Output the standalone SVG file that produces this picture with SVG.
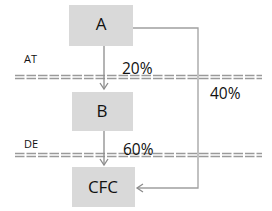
<svg xmlns="http://www.w3.org/2000/svg" width="272" height="211" viewBox="0 0 272 211">
<defs>
<marker id="ah" markerWidth="10" markerHeight="10" refX="7" refY="5" orient="auto" markerUnits="userSpaceOnUse">
<path d="M1,1 L7,5 L1,9" fill="none" stroke="#8c8c8c" stroke-width="1.3"/>
</marker>
</defs>
<style>
.box{fill:#d9d9d9}
.lbl{font-family:"Open Sans","Liberation Sans",sans-serif;fill:#111;text-anchor:middle}
.big{font-size:17px}
.pct{font-size:15.5px;font-family:"Open Sans","Liberation Sans",sans-serif;fill:#111}
.sm{font-size:11px;font-family:"Open Sans","Liberation Sans",sans-serif;fill:#111}
.dash{stroke:#9a9a9a;stroke-width:1.3;stroke-dasharray:9.5 2;fill:none}
.conn{stroke:#8c8c8c;stroke-width:1.3;fill:none}
</style>
<rect width="272" height="211" fill="#fff"/>
<g id="lines">
<line class="dash" x1="15" y1="75.5" x2="262" y2="75.5"/>
<line class="dash" x1="15" y1="78.5" x2="262" y2="78.5"/>
<line class="dash" x1="15" y1="153.5" x2="262" y2="153.5"/>
<line class="dash" x1="15" y1="156.5" x2="262" y2="156.5"/>
<text class="sm" x="24" y="63">AT</text>
<text class="sm" x="24" y="148">DE</text>
</g>
<g id="connectors">
<line class="conn" x1="104" y1="46" x2="104" y2="89" marker-end="url(#ah)"/>
<line class="conn" x1="104" y1="131" x2="104" y2="165" marker-end="url(#ah)"/>
<polyline points="133,28 198,28 198,188 137,188" fill="none" stroke="#a0a0a0" stroke-width="1.3" marker-end="url(#ah)"/>
<text class="pct" x="122" y="74">20%</text>
<text class="pct" x="210" y="99">40%</text>
<text class="pct" x="123" y="155">60%</text>
</g>
<g id="nodeA">
<rect class="box" x="69" y="5" width="64" height="41"/>
<text class="lbl big" x="101" y="30">A</text>
</g>
<g id="nodeB">
<rect class="box" x="72" y="92" width="61" height="39"/>
<text class="lbl big" x="102" y="117">B</text>
</g>
<g id="nodeCFC">
<rect class="box" x="72" y="167" width="63" height="40"/>
<text class="lbl big" x="103" y="193">CFC</text>
</g>
</svg>
